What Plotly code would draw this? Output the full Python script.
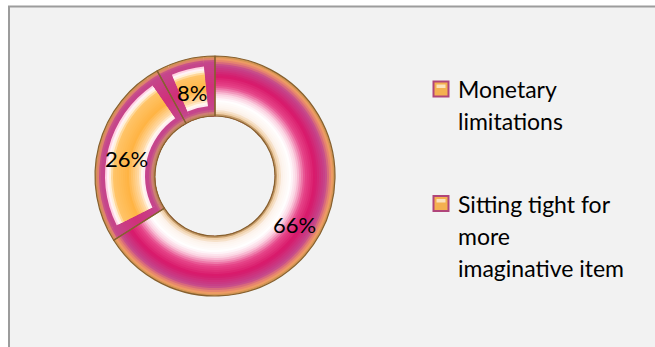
import math
import plotly.graph_objects as go

# ---- data -------------------------------------------------------------
shares = [66, 26, 8]                      # percent per slice, clockwise from 12 o'clock
legend_labels = ["Monetary limitations", "Sitting tight for more imaginative item"]
legend_lines = [["Monetary", "limitations"], ["Sitting tight for", "more", "imaginative item"]]

# ---- geometry / style --------------------------------------------------
W, H = 655, 347
CX, CY = 215, 176          # donut centre (px)
R_OUT, R_IN = 120, 60      # outer / inner radius (px)
LABEL_R, LABEL_DY = 91, 5  # value labels sit on the middle of the ring
N_RINGS = 30               # concentric bands used for the radial shading
FRAME_PX = 9               # bevel frame width on the small slices
FONT = "Lato"

# radial colour stops, t = 0 at the outer rim, 1 at the hole
BIG_STOPS = [(0.00, "#b08048"), (0.03, "#f0a85e"), (0.08, "#e8886e"), (0.16, "#c4478d"),
             (0.34, "#d8186a"), (0.50, "#e6478a"), (0.64, "#fbd0e0"), (0.74, "#ffffff"),
             (0.88, "#fdf3ec"), (0.95, "#efd0aa"), (1.00, "#b08048")]
FRAME_STOPS = [(0.00, "#b08048"), (0.03, "#eda060"), (0.09, "#c4478d"), (0.50, "#d0307a"),
               (0.90, "#c4478d"), (0.96, "#d08a70"), (1.00, "#b08048")]
PANEL_STOPS = [(0.18, "#ffd0e0"), (0.23, "#ffffff"), (0.31, "#ffc468"), (0.55, "#ffb444"),
               (0.72, "#ffd9a4"), (0.80, "#ffffff"), (0.84, "#ffd0e0")]
PANEL_RANGE = (0.18, 0.84)


def hex_rgb(h):
    h = h.lstrip("#")
    return tuple(int(h[i:i + 2], 16) for i in (0, 2, 4))


def shade(stops, t):
    if t <= stops[0][0]:
        return stops[0][1]
    for (t0, c0), (t1, c1) in zip(stops, stops[1:]):
        if t <= t1:
            f = (t - t0) / (t1 - t0)
            a, b = hex_rgb(c0), hex_rgb(c1)
            return "rgb(%d,%d,%d)" % tuple(round(a[k] + (b[k] - a[k]) * f) for k in range(3))
    return stops[-1][1]


def domain_for(r):
    return dict(x=[(CX - r) / W, (CX + r) / W], y=[1 - (CY + r) / H, 1 - (CY - r) / H])


# split the smaller slices into frame | panel | frame so the panel sits inset
total = sum(shares)
gap = total * (FRAME_PX / ((R_OUT + R_IN) / 2)) / (2 * math.pi)
sub_values, sub_kind = [shares[0]], ["big"]
for v in shares[1:]:
    sub_values += [gap, v - 2 * gap, gap]
    sub_kind += ["frame", "panel", "frame"]

fig = go.Figure()

dr = (R_OUT - R_IN) / N_RINGS
for i in range(N_RINGS):
    r = R_OUT - i * dr
    t = (i + 0.5) / N_RINGS
    frame_c = shade(FRAME_STOPS, t)
    in_panel = PANEL_RANGE[0] <= t <= PANEL_RANGE[1]
    colors = []
    for kind in sub_kind:
        if kind == "big":
            colors.append(shade(BIG_STOPS, t))
        elif kind == "panel" and in_panel:
            colors.append(shade(PANEL_STOPS, t))
        else:
            colors.append(frame_c)
    fig.add_trace(go.Pie(
        values=sub_values, sort=False, direction="clockwise", rotation=0,
        hole=R_IN / r, domain=domain_for(r),
        marker=dict(colors=colors, line=dict(width=0)),
        textinfo="none", hoverinfo="skip", showlegend=False,
    ))

# slice outlines
fig.add_trace(go.Pie(
    values=shares, sort=False, direction="clockwise", rotation=0,
    hole=R_IN / R_OUT, domain=domain_for(R_OUT),
    marker=dict(colors=["rgba(0,0,0,0)"] * len(shares), line=dict(color="#86602f", width=1.2)),
    textinfo="none", hoverinfo="skip", showlegend=False,
))

shapes = [dict(type="rect", xref="paper", yref="paper", layer="below",
               x0=9 / W, x1=1.05, y0=-0.05, y1=1 - 6.5 / H,
               fillcolor="#f2f2f2", line=dict(color="#9c9c9c", width=2))]
annotations = []

# value labels at each slice's mid-angle
start = 0.0
for v in shares:
    mid = 2 * math.pi * (start + v / 2) / total
    start += v
    lx = CX + LABEL_R * math.sin(mid)
    ly = CY + LABEL_DY - LABEL_R * math.cos(mid)
    annotations.append(dict(
        xref="paper", yref="paper", x=lx / W, y=1 - ly / H,
        xanchor="center", yanchor="middle", showarrow=False, text=f"{v}%",
        font=dict(family=FONT, size=22, color="black")))

# legend: swatch + wrapped label lines
LEG_X, TXT_X, SW = 433.5, 456, 15
LINE_H = 32
entry_tops = [89, 203.5]
for top, lines in zip(entry_tops, legend_lines):
    shapes.append(dict(type="rect", xref="paper", yref="paper",
                       x0=LEG_X / W, x1=(LEG_X + SW) / W,
                       y0=1 - (top + SW / 2) / H, y1=1 - (top - SW / 2) / H,
                       fillcolor="#f4b050", line=dict(color="#b0457a", width=2)))
    shapes.append(dict(type="rect", xref="paper", yref="paper",
                       x0=(LEG_X + 3) / W, x1=(LEG_X + SW - 3) / W,
                       y0=1 - (top - 1) / H, y1=1 - (top - SW / 2 + 3) / H,
                       fillcolor="#fbe2bd", line=dict(width=0)))
    for j, txt in enumerate(lines):
        annotations.append(dict(
            xref="paper", yref="paper", x=TXT_X / W, y=1 - (top + j * LINE_H) / H,
            xanchor="left", yanchor="middle", showarrow=False, text=txt,
            font=dict(family=FONT, size=23, color="black")))

fig.update_layout(
    width=W, height=H, margin=dict(l=0, r=0, t=0, b=0),
    paper_bgcolor="white", plot_bgcolor="white",
    shapes=shapes, annotations=annotations, showlegend=False,
)

fig.write_html("out.html")
